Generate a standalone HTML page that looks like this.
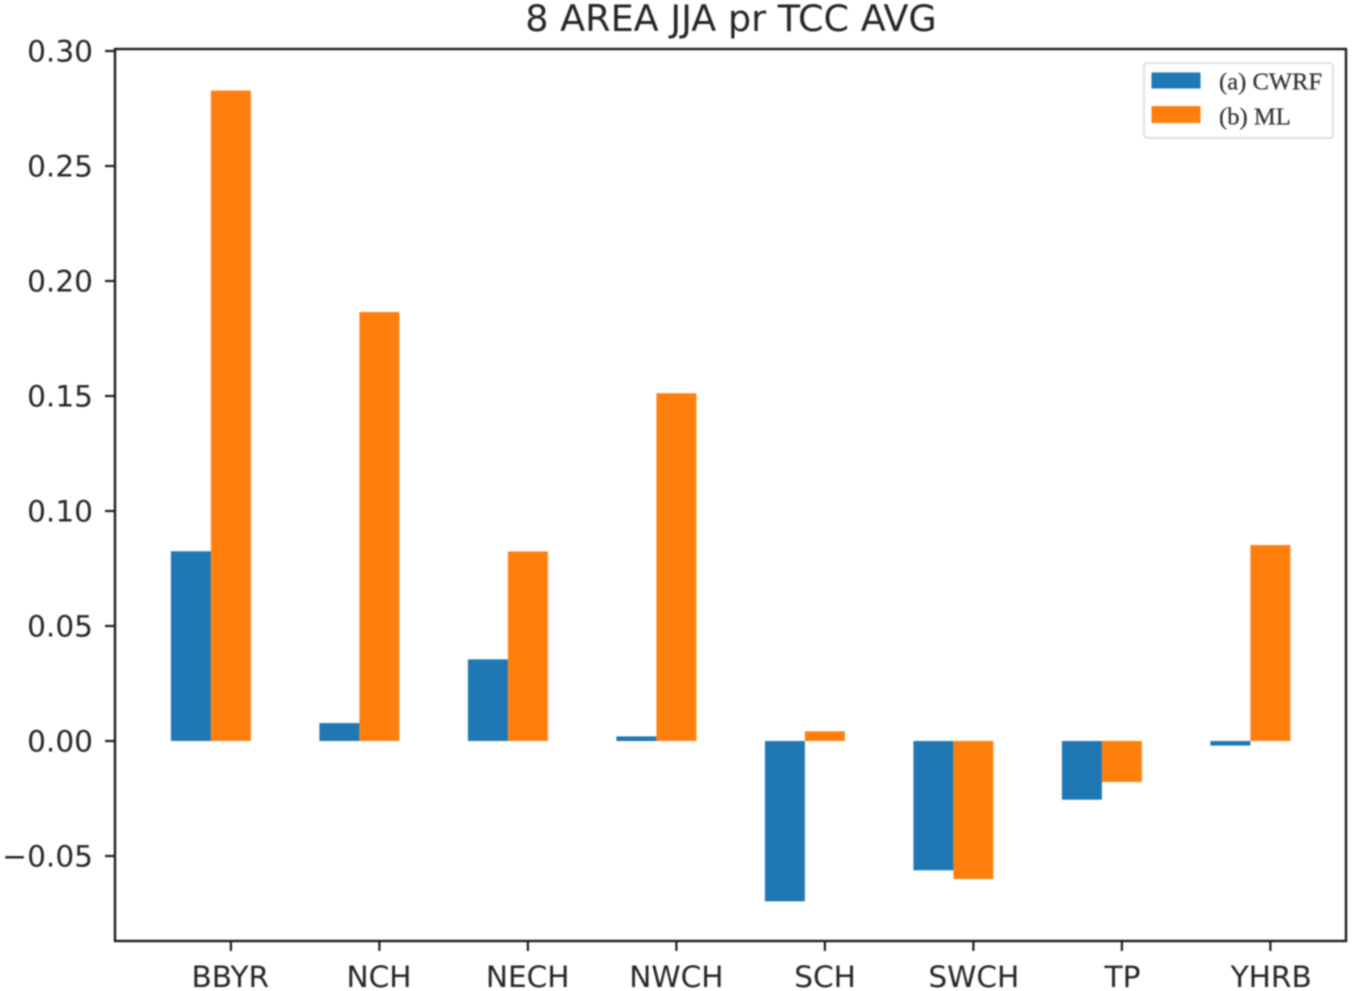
<!DOCTYPE html>
<html>
<head>
<meta charset="utf-8">
<title>8 AREA JJA pr TCC AVG</title>
<style>
html,body{margin:0;padding:0;background:#fff;width:1355px;height:991px;overflow:hidden}
svg{display:block;filter:blur(0.8px)}
.t{font-family:"DejaVu Sans","Liberation Sans",sans-serif;fill:#262626}
.l{font-family:"Liberation Serif",serif;fill:#333;stroke:#333;stroke-width:0.25px}
</style>
</head>
<body>
<svg id="chart" xmlns="http://www.w3.org/2000/svg" width="1355" height="991" viewBox="0 0 1355 991">
  <g id="bars"></g>
  <g id="ticks"></g>
  <rect x="115" y="49" width="1231" height="892" fill="none" stroke="#1c1c1c" stroke-width="2.4"/>
  <text class="t" x="731" y="31" font-size="36.6" text-anchor="middle">8 AREA JJA pr TCC AVG</text>
  <g>
    <rect x="1144" y="63" width="189" height="75" rx="3" fill="#fff" stroke="#d8d8d8" stroke-width="1.5"/>
    <rect x="1151.5" y="72.500" width="49" height="16" fill="#1f77b4"/>
    <text class="l" x="1219" y="89.500" font-size="24.6">(a) CWRF</text>
    <rect x="1151.500" y="106" width="49" height="17" fill="#ff7f0e"/>
    <text class="l" x="1219" y="124.500" font-size="24.6">(b) ML</text>
  </g>
</svg>
<script>
const categories = ["BBYR","NCH","NECH","NWCH","SCH","SWCH","TP","YHRB"];
const cwrfValues = [0.0825,0.0078,0.0355,0.002,-0.0697,-0.0562,-0.0255,-0.002];
const mlValues = [0.2828,0.1865,0.0824,0.1512,0.0042,-0.06,-0.0178,0.0852];
const yTickValues = [-0.05,0,0.05,0.10,0.15,0.20,0.25,0.30];
const yTickLabels = ["\u22120.05","0.00","0.05","0.10","0.15","0.20","0.25","0.30"];

const NS = "http://www.w3.org/2000/svg";
const xScale = i => 230.9 + i * 148.5;
const labelScale = i => 230.3 + i * 148.7;
const yScale = v => 741 - v * 2300;
const barWidth = 40;
const barsGroup = document.getElementById("bars");
const ticksGroup = document.getElementById("ticks");

function makeBar(i, value, offset, color) {
  const r = document.createElementNS(NS, "rect");
  const y0 = yScale(0), y1 = yScale(value);
  r.setAttribute("x", xScale(i) + offset);
  r.setAttribute("y", Math.min(y0, y1));
  r.setAttribute("width", barWidth);
  r.setAttribute("height", Math.abs(y1 - y0));
  r.setAttribute("fill", color);
  return r;
}
function makeLine(x1, y1, x2, y2) {
  const l = document.createElementNS(NS, "line");
  l.setAttribute("x1", x1);
  l.setAttribute("y1", y1);
  l.setAttribute("x2", x2);
  l.setAttribute("y2", y2);
  l.setAttribute("stroke", "#1c1c1c");
  l.setAttribute("stroke-width", "2.2");
  return l;
}
function makeText(x, y, anchor, content) {
  const t = document.createElementNS(NS, "text");
  t.setAttribute("class", "t");
  t.setAttribute("x", x);
  t.setAttribute("y", y);
  t.setAttribute("font-size", "29.6");
  t.setAttribute("text-anchor", anchor);
  t.textContent = content;
  return t;
}

categories.forEach((c, i) => {
  const a = makeBar(i, cwrfValues[i], -barWidth - barWidth / 2, "#1f77b4");
  
  
  barsGroup.appendChild(a);
  const b = makeBar(i, mlValues[i], -barWidth / 2, "#ff7f0e");
  
  
  barsGroup.appendChild(b);
  const tick = makeLine(xScale(i), 941, xScale(i), 951);
  
  
  ticksGroup.appendChild(tick);
  const label = makeText(labelScale(i), 987, "middle", c);
  
  
  ticksGroup.appendChild(label);
});

yTickValues.forEach((v, i) => {
  const tick = makeLine(105, yScale(v), 115, yScale(v));
  
  
  ticksGroup.appendChild(tick);
  const label = makeText(93, yScale(v) + 10.5, "end", yTickLabels[i]);
  
  
  ticksGroup.appendChild(label);
});
</script>
</body>
</html>
